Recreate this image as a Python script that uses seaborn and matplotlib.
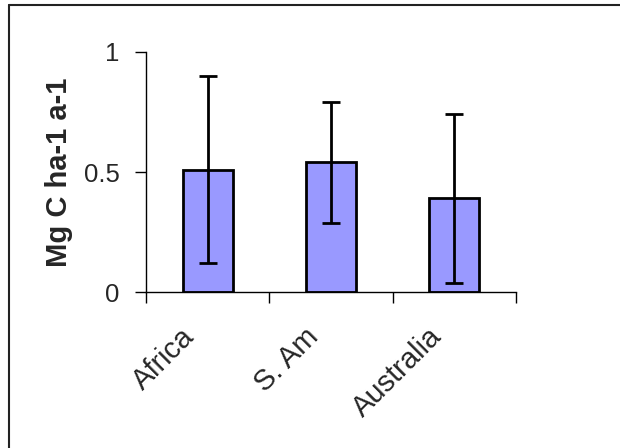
import matplotlib
matplotlib.use("Agg")
import matplotlib.pyplot as plt
from matplotlib.lines import Line2D
from matplotlib.transforms import ScaledTranslation
import seaborn as sns
import pandas as pd
import numpy as np

categories = ["Africa", "S. Am", "Australia"]
values = [0.51, 0.54, 0.39]
errors = [0.39, 0.25, 0.35]
yticks = [0, 0.5, 1]
ytick_labels = ["0", "0.5", "1"]
ylabel = "Mg C ha-1 a-1"

sns.set_theme(style="white")
plt.rcParams["font.family"] = ["Liberation Sans", "DejaVu Sans"]

fig = plt.figure(figsize=(6.2, 4.48), dpi=100)
ax = fig.add_axes([146/620, 1-292.3/448, 370/620, (292.3-51.7)/448])

df = pd.DataFrame({"cat": categories, "val": values})
sns.barplot(data=df, x="cat", y="val", ax=ax, color="#9999FF", saturation=1,
            width=0.405, edgecolor="black", linewidth=2, errorbar=None)
ax.errorbar(np.arange(len(categories)), values, yerr=errors, fmt="none",
            ecolor="black", elinewidth=2, capsize=6.8, capthick=2)

ax.set_xlim(-0.5, len(categories) - 0.5)
ax.set_ylim(0, 1)
ax.set_yticks(yticks)
ax.set_yticklabels(ytick_labels, fontsize=18.5)
ax.set_xticks(np.arange(len(categories)))
ax.set_xticklabels(categories, fontsize=21, rotation=45, ha="right", va="center",
                   rotation_mode="anchor")
ax.set_xticks(np.arange(len(categories) + 1) - 0.5, minor=True)
ax.tick_params(axis="x", which="major", length=0, pad=29)
ax.tick_params(axis="x", which="minor", length=8, width=1, color="black",
               direction="out", bottom=True)
ax.tick_params(axis="y", length=8, width=1, color="black", direction="out",
               left=True, pad=11)
offset = ScaledTranslation(-12.5/72, 0, fig.dpi_scale_trans)
for lab in ax.get_xticklabels():
    lab.set_transform(lab.get_transform() + offset)
ax.set_xlabel("")
ax.set_ylabel(ylabel, fontsize=21, fontweight="bold", labelpad=8)

for s in ["top", "right"]:
    ax.spines[s].set_visible(False)
for s in ["left", "bottom"]:
    ax.spines[s].set_color("black")
    ax.spines[s].set_linewidth(1)

fig.add_artist(Line2D([8.5/620, 1], [1-5.5/448, 1-5.5/448], color="#222222",
                      linewidth=1.5, transform=fig.transFigure))
fig.add_artist(Line2D([8.5/620, 8.5/620], [0, 1-5.5/448], color="#222222",
                      linewidth=1.5, transform=fig.transFigure))

fig.savefig("out.png", dpi=100)
